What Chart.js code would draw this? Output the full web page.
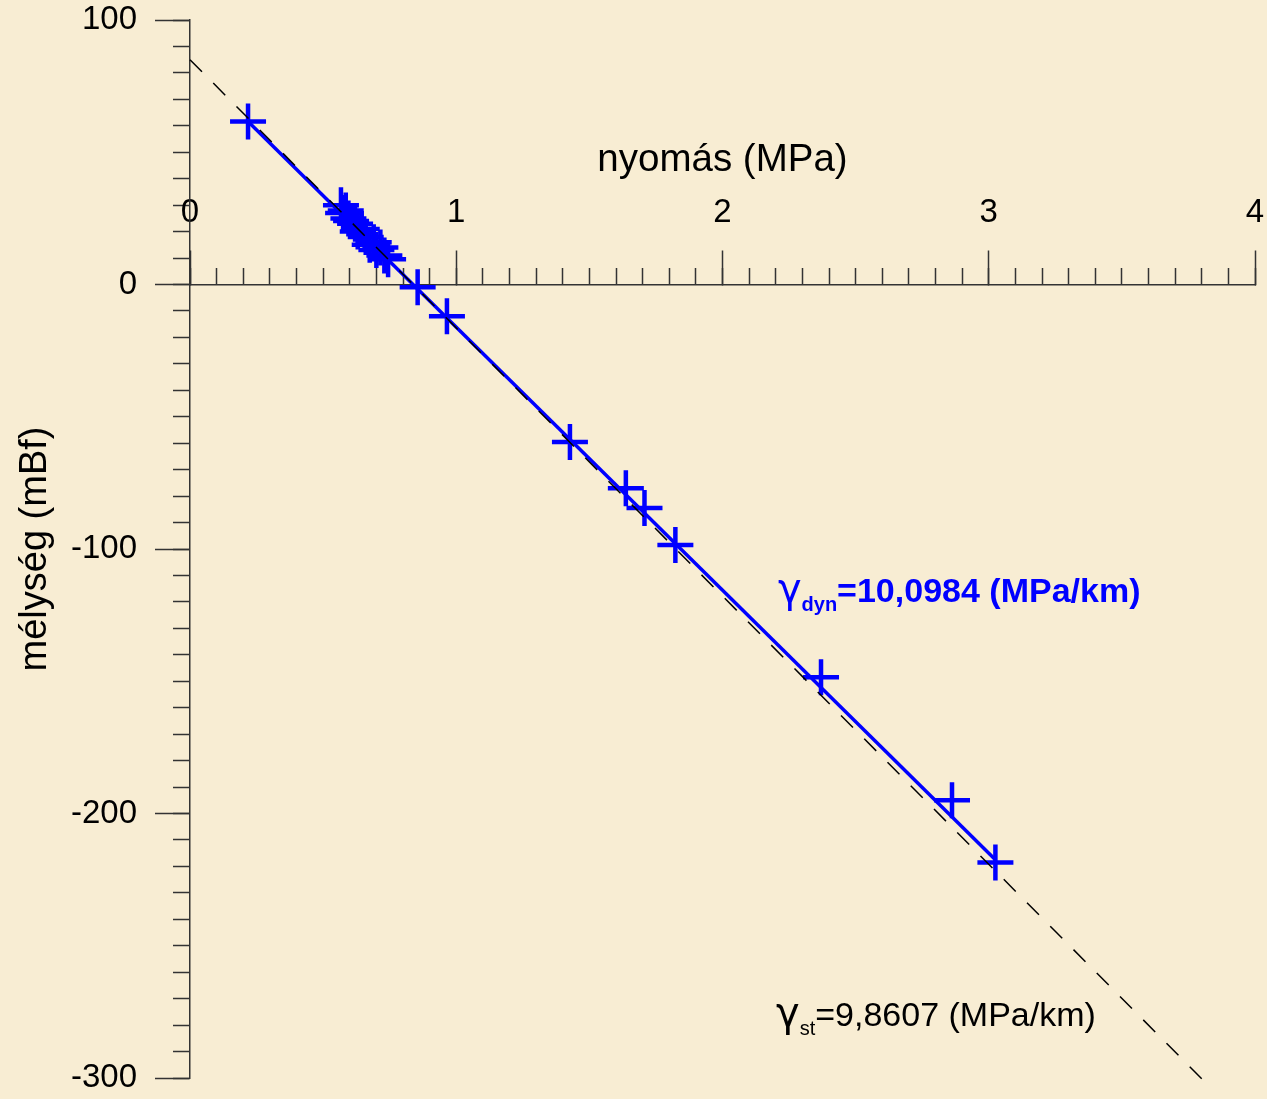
<!DOCTYPE html>
<html>
<head>
<meta charset="utf-8">
<script src="https://cdn.jsdelivr.net/npm/chart.js@4/dist/chart.umd.min.js"></script>
<style>
  html, body { margin: 0; padding: 0; background: #f8edd3; overflow: hidden; }
  #wrap { width: 1267px; height: 1099px; position: relative; }
</style>
</head>
<body>
<div id="wrap"><canvas id="myChart"></canvas></div>
<script>
// measured points (pressure in MPa, depth in mBf)
const pressure = [0.218, 0.567, 0.575, 0.585, 0.595, 0.605, 0.62, 0.63, 0.645, 0.66, 0.675, 0.69, 0.70, 0.715, 0.73, 0.744,
                  0.855, 0.965, 1.427, 1.637, 1.707, 1.823, 2.37, 2.862, 3.025];
const depth = [61.6, 30, 27, 28, 25, 24, 23, 20, 21, 18, 15, 16, 13, 14, 11, 9.5,
               -1, -12, -59.5, -77, -84.5, -98.5, -148.5, -195, -218.5];

// dynamic gradient fit (solid blue) and static gradient (dashed)
const fitX = [0.218, 3.025];
const fitY = [61.6, -217.5];
const staticX = [0, 3.8];
const staticY = [85, -300.3];

const xTitle = 'nyomás (MPa)';
const yTitle = 'mélység (mBf)';
const dynLabel = ['dyn', '=10,0984 (MPa/km)'];
const stLabel = ['st', '=9,8607 (MPa/km)'];
const dynLabelPos = [2.208, -120.2];
const stLabelPos = [2.201, -280.5];

const FONT = "'Liberation Sans', Arial, Helvetica, sans-serif";
const AXIS = '#333';

function toPts(xs, ys) {
  return xs.map((x, i) => ({ x: x, y: ys[i] }));
}

// scales positioned on the other axis should not push the chart area around
function noPad(s) {
  s.paddingTop = 0; s.paddingBottom = 0; s.paddingLeft = 0; s.paddingRight = 0;
}

function drawGamma(ctx, x, y, sub, text, bold, color) {
  const w = bold ? 'bold ' : '';
  ctx.save();
  ctx.fillStyle = color;
  ctx.textBaseline = 'alphabetic';
  ctx.textAlign = 'left';
  ctx.font = "40px 'DejaVu Sans', sans-serif";
  ctx.fillText('γ', x, y);
  x += ctx.measureText('γ').width;
  ctx.font = w + '20px ' + FONT;
  ctx.fillText(sub, x, y + 9);
  x += ctx.measureText(sub).width;
  ctx.font = w + '34px ' + FONT;
  ctx.fillText(text, x, y);
  ctx.restore();
}

const labelsPlugin = {
  id: 'gammaLabels',
  afterDatasetsDraw(chart) {
    const { ctx, scales } = chart;
    const sx = scales.x, sy = scales.y;
    drawGamma(ctx, sx.getPixelForValue(dynLabelPos[0]), sy.getPixelForValue(dynLabelPos[1]),
      dynLabel[0], dynLabel[1], true, '#0000ff');
    drawGamma(ctx, sx.getPixelForValue(stLabelPos[0]), sy.getPixelForValue(stLabelPos[1]),
      stLabel[0], stLabel[1], false, '#000');
  }
};

const ctx = document.getElementById('myChart').getContext('2d');
const myChart = new Chart(ctx, {
  type: 'scatter',
  data: {
    datasets: [
      {
        label: 'static',
        type: 'line',
        data: toPts(staticX, staticY),
        borderColor: '#000',
        borderWidth: 1.5,
        borderDash: [17, 16],
        pointRadius: 0,
        fill: false,
        clip: false
      },
      {
        label: 'fit',
        type: 'line',
        data: toPts(fitX, fitY),
        borderColor: '#0000ff',
        borderWidth: 3.5,
        pointRadius: 0,
        fill: false
      },
      {
        label: 'measured',
        data: toPts(pressure, depth),
        pointStyle: 'cross',
        pointRadius: 18,
        pointHoverRadius: 18,
        pointBorderWidth: 4.5,
        borderColor: '#0000ff',
        backgroundColor: '#0000ff',
        showLine: false,
        clip: false
      }
    ]
  },
  options: {
    responsive: true,
    maintainAspectRatio: false,
    animation: false,
    events: [],
    layout: { autoPadding: false, padding: { top: 20, bottom: 21, left: 0, right: 12 } },
    scales: {
      x: {
        type: 'linear',
        position: { y: 0 },
        min: 0,
        max: 4,
        afterFit: (s) => { s.height = 0; noPad(s); },
        ticks: {
          stepSize: 1,
          autoSkip: false,
          maxRotation: 0,
          minRotation: 0,
          padding: -56,
          color: '#000',
          font: { family: FONT, size: 33 }
        },
        grid: { drawOnChartArea: false, tickLength: -35, tickColor: AXIS, tickWidth: 1.5 },
        border: { display: true, color: AXIS, width: 1.5 },
        title: {
          display: true,
          text: xTitle,
          color: '#000',
          font: { family: FONT, size: 38.5 },
          padding: { top: 0, bottom: 101 }
        }
      },
      xMinor: {
        type: 'linear',
        axis: 'x',
        position: { y: 0 },
        min: 0,
        max: 4,
        afterFit: (s) => { s.height = 0; noPad(s); },
        ticks: { display: false, stepSize: 0.1, autoSkip: false },
        grid: { drawOnChartArea: false, tickLength: -17, tickColor: AXIS, tickWidth: 1.5 },
        border: { display: false }
      },
      y: {
        type: 'linear',
        position: 'left',
        min: -300,
        max: 100,
        afterFit: (s) => { s.width = 190; noPad(s); },
        ticks: {
          stepSize: 100,
          autoSkip: false,
          padding: 18,
          color: '#000',
          font: { family: FONT, size: 33 }
        },
        grid: { drawOnChartArea: false, tickLength: 35, tickColor: AXIS, tickWidth: 1.5 },
        border: { display: true, color: AXIS, width: 1.5 },
        title: {
          display: true,
          text: yTitle,
          color: '#000',
          font: { family: FONT, size: 38 },
          padding: { top: 13, bottom: 0 }
        }
      },
      yMinor: {
        type: 'linear',
        axis: 'y',
        position: { x: 0 },
        min: -300,
        max: 100,
        afterFit: (s) => { noPad(s); },
        ticks: { display: false, stepSize: 10, autoSkip: false },
        grid: { drawOnChartArea: false, tickLength: 17, tickColor: AXIS, tickWidth: 1.5 },
        border: { display: false }
      }
    },
    plugins: {
      legend: { display: false },
      tooltip: { enabled: false }
    }
  },
  plugins: [labelsPlugin]
});
</script>
</body>
</html>
